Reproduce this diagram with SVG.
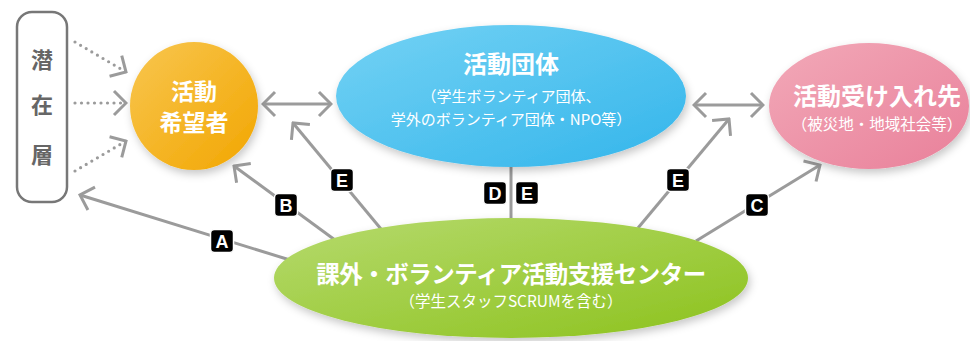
<svg xmlns="http://www.w3.org/2000/svg" width="970" height="341" viewBox="0 0 970 341">
<defs>
<style>
.t{font-family:"Noto Sans CJK JP","Noto Sans",sans-serif;font-weight:bold;fill:#fff;text-anchor:middle}
.s{font-family:"Noto Sans CJK JP","Noto Sans",sans-serif;font-weight:normal;fill:#fff;text-anchor:middle}
.g{font-family:"Noto Sans CJK JP","Noto Sans",sans-serif;font-weight:bold;fill:#666;text-anchor:middle;font-size:22px}
.c{stroke:#9b9b9b;stroke-width:3;fill:none}
.d{stroke:#9b9b9b;stroke-width:3.2;fill:none;stroke-dasharray:0 6.5;stroke-linecap:round}
.lb rect{fill:#000;stroke:#fff;stroke-width:1.5}
.lb text{font-family:"Liberation Sans","DejaVu Sans",sans-serif;font-weight:bold;fill:#fff;font-size:18px;text-anchor:middle}
</style>
<marker id="ah" markerUnits="userSpaceOnUse" viewBox="0 0 16 28" markerWidth="16" markerHeight="28" refX="14" refY="14" orient="auto-start-reverse">
<path d="M2,2 L14,14 L2,26" fill="none" stroke="#9b9b9b" stroke-width="3"/>
</marker>
<linearGradient id="go" x1="0" y1="0" x2="1" y2="1"><stop offset="0" stop-color="#f8c650"/><stop offset="1" stop-color="#f2a600"/></linearGradient>
<linearGradient id="gb" x1="0" y1="0" x2="1" y2="1"><stop offset="0" stop-color="#74d2f4"/><stop offset="1" stop-color="#33b5eb"/></linearGradient>
<linearGradient id="gp" x1="0" y1="0" x2="1" y2="1"><stop offset="0" stop-color="#f2a9b8"/><stop offset="1" stop-color="#e9809a"/></linearGradient>
<linearGradient id="gg" x1="0" y1="0" x2="1" y2="1"><stop offset="0" stop-color="#b6da6e"/><stop offset="1" stop-color="#8cc21c"/></linearGradient>
<filter id="sh" x="-20%" y="-20%" width="140%" height="150%"><feDropShadow dx="2" dy="4" stdDeviation="4" flood-color="#000" flood-opacity="0.22"/></filter>
</defs>

<g id="connectors">
<path class="d" d="M75,42 L126,72" marker-end="url(#ah)"/>
<path class="d" d="M75,103 L126,103" marker-end="url(#ah)"/>
<path class="d" d="M75,171 L126,141" marker-end="url(#ah)"/>
<path class="c" d="M263,104 L331,104" marker-start="url(#ah)" marker-end="url(#ah)"/>
<path class="c" d="M694,105 L763,105" marker-start="url(#ah)" marker-end="url(#ah)"/>
<path class="c" d="M290,260 L80,195" marker-end="url(#ah)"/>
<path class="c" d="M335,240 L234,166" marker-end="url(#ah)"/>
<path class="c" d="M381,229 L293,123" marker-end="url(#ah)"/>
<path class="c" d="M511,220 L511,143" marker-end="url(#ah)"/>
<path class="c" d="M638,228 L729,119" marker-end="url(#ah)"/>
<path class="c" d="M696,241 L820,165" marker-end="url(#ah)"/>
</g>

<g id="latent">
<rect x="17" y="12" width="50" height="190" rx="15" fill="#fff" stroke="#777" stroke-width="2.5"/>
<text class="g" x="42" y="68">潜</text>
<text class="g" x="42" y="113">在</text>
<text class="g" x="42" y="163">層</text>
</g>

<g id="hopefuls">
<circle cx="194" cy="106" r="64" fill="url(#go)" filter="url(#sh)"/>
<text class="t" x="194" y="100" font-size="23">活動</text>
<text class="t" x="194" y="131" font-size="23">希望者</text>
</g>

<g id="groups">
<ellipse cx="511" cy="96" rx="175" ry="71" fill="url(#gb)" filter="url(#sh)"/>
<text class="t" x="511" y="73" font-size="24">活動団体</text>
<text class="s" x="511" y="102" font-size="15">（学生ボランティア団体、</text>
<text class="s" x="511" y="125" font-size="15">学外のボランティア団体・NPO等）</text>
</g>

<g id="hosts">
<ellipse cx="869" cy="106" rx="100" ry="63" fill="url(#gp)" filter="url(#sh)"/>
<text class="t" x="877" y="105" font-size="24">活動受け入れ先</text>
<text class="s" x="877" y="130" font-size="15.5">（被災地・地域社会等）</text>
</g>

<g id="center">
<ellipse cx="511" cy="278" rx="237" ry="60" fill="url(#gg)" filter="url(#sh)"/>
<text class="t" x="511" y="283" font-size="23.5" letter-spacing="-0.5">課外・ボランティア活動支援センター</text>
<text class="s" x="511" y="307" font-size="15.5">（学生スタッフSCRUMを含む）</text>
</g>

<g id="labels" class="lb">
<rect x="210.5" y="229.5" width="23" height="23" rx="4"/><text x="222" y="247.5">A</text>
<rect x="274.5" y="193.5" width="23" height="23" rx="4"/><text x="286" y="211.5">B</text>
<rect x="330.5" y="168.5" width="23" height="23" rx="4"/><text x="342" y="186.5">E</text>
<rect x="483.5" y="181.5" width="23" height="23" rx="4"/><text x="495" y="199.5">D</text>
<rect x="515.5" y="181.5" width="23" height="23" rx="4"/><text x="527" y="199.5">E</text>
<rect x="666.5" y="168.5" width="23" height="23" rx="4"/><text x="678" y="186.5">E</text>
<rect x="745.5" y="193.5" width="23" height="23" rx="4"/><text x="757" y="211.5">C</text>
</g>
</svg>
